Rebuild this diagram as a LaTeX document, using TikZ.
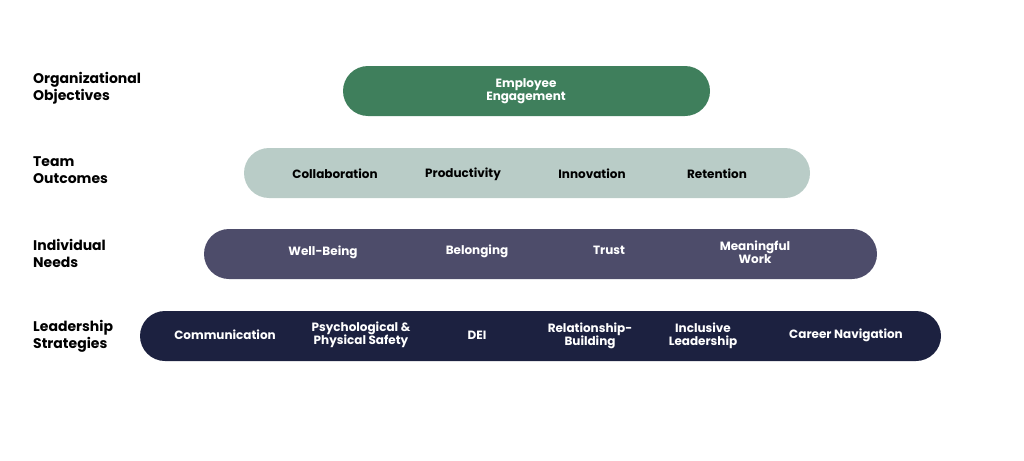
\documentclass[tikz,border=0pt]{standalone}
\usepackage{fontspec}
\setmainfont{Poppins}
\definecolor{cgreen}{HTML}{3F7F5C}
\definecolor{clight}{HTML}{B9CCC7}
\definecolor{cpurple}{HTML}{4D4C6A}
\definecolor{cnavy}{HTML}{1C2140}
\begin{document}
\begin{tikzpicture}[x=1pt,y=-1pt,
  bar/.style={rounded corners=25pt},
  lab/.style={font=\fontsize{12}{13}\selectfont\bfseries,align=center,inner sep=0},
  side/.style={font=\fontsize{14}{17}\selectfont\bfseries,align=left,anchor=west,inner sep=0}]
\useasboundingbox (0,0) rectangle (1024,460);
\fill[bar,cgreen] (343,66) rectangle (710,116);
\fill[bar,clight] (244,148) rectangle (810,198);
\fill[bar,cpurple] (204,229) rectangle (877,279);
\fill[bar,cnavy] (140,311) rectangle (941,361);
\node[side] (l1) at (33,88) {Organizational\\Objectives};
\node[side] (l2) at (33,170) {Team\\Outcomes};
\node[side] (l3) at (33,253) {Individual\\Needs};
\node[side] (l4) at (33,336) {Leadership\\Strategies};
\node[lab,white] (e) at (526,91) {Employee\\Engagement};
\node[lab] (c1) at (335,174) {Collaboration};
\node[lab] (c2) at (463,174) {Productivity};
\node[lab] (c3) at (592,174) {Innovation};
\node[lab] (c4) at (717,174) {Retention};
\node[lab,white] (n1) at (323,252) {Well-Being};
\node[lab,white] (n2) at (477,251) {Belonging};
\node[lab,white] (n3) at (609,250) {Trust};
\node[lab,white] (n4) at (755,252) {Meaningful\\Work};
\node[lab,white] (s1) at (225,335) {Communication};
\node[lab,white] (s2) at (361,335) {Psychological \&\\Physical Safety};
\node[lab,white] (s3) at (477,335) {DEI};
\node[lab,white] (s4) at (590,336) {Relationship-\\Building};
\node[lab,white] (s5) at (703,336) {Inclusive\\Leadership};
\node[lab,white] (s6) at (846,335) {Career Navigation};
\end{tikzpicture}
\end{document}
